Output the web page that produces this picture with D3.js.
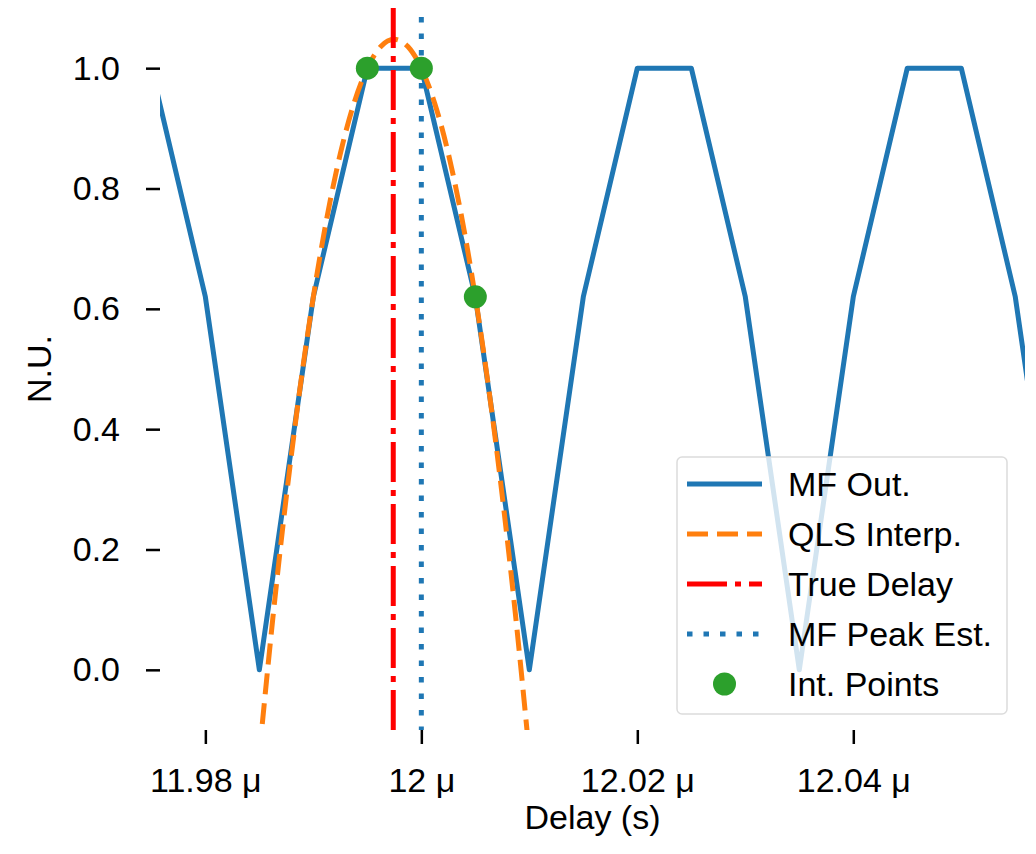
<!DOCTYPE html>
<html>
<head>
<meta charset="utf-8">
<script src="https://cdn.jsdelivr.net/npm/d3@7"></script>
<style>
  html, body { margin: 0; padding: 0; background: #fff; }
  svg { display: block; font-family: "Liberation Sans", Arial, Helvetica, sans-serif; }
</style>
</head>
<body>
<div id="chart"></div>
<script>
// delays in microseconds
const mfX = [11.970, 11.975, 11.980, 11.985, 11.990, 11.995, 12.000, 12.005, 12.010, 12.015,
             12.020, 12.025, 12.030, 12.035, 12.040, 12.045, 12.050, 12.055, 12.060];
const mfY = [1.0, 1.0, 0.62, 0.0, 0.62, 1.0, 1.0, 0.62, 0.0, 0.62,
             1.0, 1.0, 0.62, 0.0, 0.62, 1.0, 1.0, 0.62, 0.0];

const qlsX = [11.98500, 11.98625, 11.98750, 11.98875, 11.99000, 11.99125, 11.99250, 11.99375,
              11.99500, 11.99625, 11.99750, 11.99875, 12.00000, 12.00125, 12.00250, 12.00375,
              12.00500, 12.00625, 12.00750, 12.00875, 12.01000];
const qlsY = [-0.14, 0.086, 0.288, 0.466, 0.62, 0.751, 0.858, 0.941,
              1.0, 1.036, 1.048, 1.036, 1.0, 0.941, 0.858, 0.751,
              0.62, 0.466, 0.288, 0.086, -0.14];

const trueDelay = 11.9974;
const peakEst = 12.0;

const intX = [11.995, 12.000, 12.005];
const intY = [1.0, 1.0, 0.62];

const xTicks = [11.98, 12.00, 12.02, 12.04];
const xTickLabels = ["11.98 μ", "12 μ", "12.02 μ", "12.04 μ"];
const yTicks = [0.0, 0.2, 0.4, 0.6, 0.8, 1.0];

const legendItems = ["MF Out.", "QLS Interp.", "True Delay", "MF Peak Est.", "Int. Points"];

const W = 1036, H = 854;
const m = {top: 8, right: 11, bottom: 124, left: 160};
const fs = 34;

const dashQls = "21,9";
const dashTrue = "40,8,6,8";
const dashPeak = "5.5,11";

const svg = d3.select("#chart").append("svg")
    .attr("width", W).attr("height", H);

const x = d3.scaleLinear().domain([11.9758, 12.0559]).range([m.left, W - m.right]);
const y = d3.scaleLinear().domain([-0.1, 1.1]).range([H - m.bottom, m.top]);

svg.append("defs").append("clipPath").attr("id", "clip")
  .append("rect")
    .attr("x", m.left).attr("y", m.top)
    .attr("width", W - m.left - m.right).attr("height", H - m.top - m.bottom);

// Eixos (sem spines)
const xAxis = svg.append("g")
    .attr("transform", `translate(0,${H - m.bottom})`)
    .call(d3.axisBottom(x).tickValues(xTicks).tickSize(14).tickPadding(24)
        .tickFormat((d, i) => xTickLabels[i]));
const yAxis = svg.append("g")
    .attr("transform", `translate(${m.left},0)`)
    .call(d3.axisLeft(y).tickValues(yTicks).tickSize(14).tickPadding(26).tickFormat(d3.format(".1f")));

[xAxis, yAxis].forEach(g => {
  g.select(".domain").remove();
  g.selectAll(".tick line").attr("stroke", "#000").attr("stroke-width", 2.5);
  g.selectAll(".tick text").attr("fill", "#000").style("font-size", fs + "px")
      .style("font-family", "'Liberation Sans', Arial, sans-serif");
});

svg.append("text")
    .attr("x", (m.left + W - m.right) / 2).attr("y", 829)
    .attr("text-anchor", "middle").style("font-size", fs + "px")
    .text("Delay (s)");
svg.append("text")
    .attr("transform", `translate(51,${(m.top + H - m.bottom) / 2}) rotate(-90)`)
    .attr("text-anchor", "middle").style("font-size", fs + "px")
    .text("N.U.");

const plot = svg.append("g").attr("clip-path", "url(#clip)");

const line = d3.line().x(d => x(d[0])).y(d => y(d[1]));

plot.append("path")
    .datum(d3.zip(mfX, mfY))
    .attr("d", line)
    .attr("fill", "none").attr("stroke", "#1f77b4").attr("stroke-width", 5)
    .attr("stroke-linejoin", "round").attr("stroke-linecap", "square");

plot.append("path")
    .datum(d3.zip(qlsX, qlsY))
    .attr("d", line.curve(d3.curveNatural))
    .attr("fill", "none").attr("stroke", "#ff7f0e").attr("stroke-width", 5)
    .attr("stroke-dasharray", dashQls);

plot.append("line")
    .attr("x1", x(trueDelay)).attr("x2", x(trueDelay))
    .attr("y1", m.top).attr("y2", H - m.bottom)
    .attr("stroke", "#ff0000").attr("stroke-width", 5)
    .attr("stroke-dasharray", dashTrue);

plot.append("line")
    .attr("x1", x(peakEst)).attr("x2", x(peakEst))
    .attr("y1", m.top + 9).attr("y2", H - m.bottom)
    .attr("stroke", "#1f77b4").attr("stroke-width", 5)
    .attr("stroke-dasharray", dashPeak);

plot.selectAll("circle.pt")
  .data(d3.zip(intX, intY))
  .join("circle")
    .attr("class", "pt")
    .attr("cx", d => x(d[0])).attr("cy", d => y(d[1]))
    .attr("r", 11.5).attr("fill", "#2ca02c");

// Legenda
const lg = svg.append("g").attr("transform", "translate(677,457)");
lg.append("rect")
    .attr("width", 330).attr("height", 257).attr("rx", 5)
    .attr("fill", "#fff").attr("fill-opacity", 0.8)
    .attr("stroke", "#dcdcdc").attr("stroke-width", 1.5);

const rowY = i => 27 + i * 50;
const hx0 = 10, hx1 = 85;
const styles = [
  {stroke: "#1f77b4", dash: null},
  {stroke: "#ff7f0e", dash: dashQls},
  {stroke: "#ff0000", dash: dashTrue},
  {stroke: "#1f77b4", dash: dashPeak}
];
styles.forEach((s, i) => {
  lg.append("line")
      .attr("x1", hx0).attr("x2", hx1).attr("y1", rowY(i)).attr("y2", rowY(i))
      .attr("stroke", s.stroke).attr("stroke-width", 5)
      .attr("stroke-dasharray", s.dash);
});
lg.append("circle").attr("cx", (hx0 + hx1) / 2).attr("cy", rowY(4)).attr("r", 11.5).attr("fill", "#2ca02c");

legendItems.forEach((t, i) => {
  lg.append("text")
      .attr("x", 111).attr("y", rowY(i)).attr("dy", "0.35em")
      .style("font-size", fs + "px").text(t);
});
</script>
</body>
</html>
